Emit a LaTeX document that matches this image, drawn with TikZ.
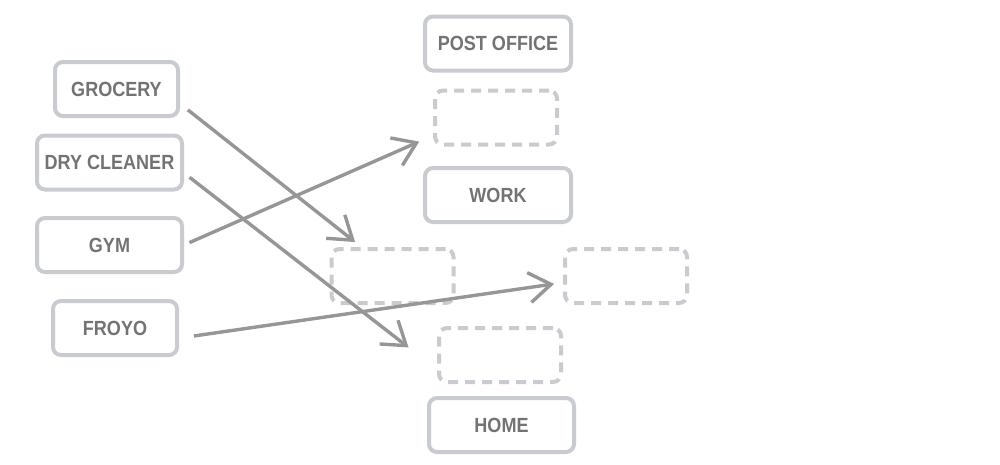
\documentclass[tikz,border=0pt]{standalone}
\usepackage{fontspec}
\setmainfont{Liberation Sans}
\newfontfamily\boxfont[FakeStretch=0.88]{Liberation Sans Bold}
\usepackage{tikz}
\usetikzlibrary{arrows,arrows.meta}
\definecolor{boxgray}{HTML}{C8CBCF}
\definecolor{txtgray}{HTML}{737373}
\definecolor{arrgray}{HTML}{969696}
\begin{document}
\begin{tikzpicture}[x=1pt,y=-1pt]
\tikzstyle{every node}+=[inner sep=0pt]
\tikzstyle{place}=[draw=boxgray, line width=4pt, rounded corners=8pt, text=txtgray, font=\fontsize{20.5}{22}\selectfont\boxfont, minimum height=54pt]
\tikzstyle{blank}=[draw=boxgray, line width=4pt, rounded corners=8pt, dash pattern=on 10pt off 7pt, minimum width=122pt, minimum height=54pt]
\tikzstyle{arr}=[draw=arrgray, line width=3.4pt, -{Straight Barb[length=22pt,width=30pt]}]
\useasboundingbox (0,0) rectangle (1000,464);
\node[place, minimum width=123pt] (grocery) at (116.5,89) {GROCERY};
\node[place, minimum width=145pt] (cleaner) at (109.5,162.5) {DRY CLEANER};
\node[place, minimum width=145pt] (gym) at (109.5,245) {GYM};
\node[place, minimum width=124pt] (froyo) at (115,328) {FROYO};
\node[place, minimum width=146pt] (post) at (498,43.5) {POST OFFICE};
\node[place, minimum width=146pt] (work) at (498,195) {WORK};
\node[place, minimum width=145pt] (home) at (501.5,425) {HOME};
\node[blank] (slotA) at (496,117.5) {};
\node[blank] (slotB) at (392.5,276) {};
\node[blank] (slotC) at (626,276) {};
\node[blank] (slotD) at (500,355) {};
\draw[arr, shorten <=10pt, shorten >=8pt] (grocery.-13.9) -- (slotB.137);
\draw[arr, shorten <=7pt, shorten >=36pt] (cleaner.-8.8) -- (slotD.-167.4);
\draw[arr, shorten <=6pt, shorten >=15pt] (gym.0.5) -- (slotA.-164.9);
\draw[arr, shorten <=15pt, shorten >=9pt] (froyo.-9.2) -- (slotC.-174.6);
\end{tikzpicture}
\end{document}
